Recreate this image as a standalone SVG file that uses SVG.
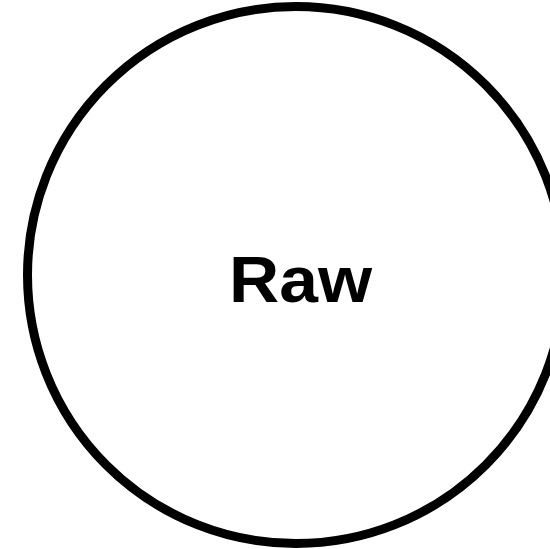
<svg xmlns="http://www.w3.org/2000/svg" width="550" height="549" viewBox="0 0 550 549">
<style>
.node-shape{fill:#ffffff;stroke:#000000;stroke-width:9}
.label{font-family:"Liberation Sans",Arial,sans-serif;font-weight:bold;font-size:64px;fill:#000000;text-anchor:middle}
</style>
<rect width="550" height="549" fill="#ffffff"/>
<g id="connectors"></g>
<g id="node-raw">
<circle class="node-shape" cx="296" cy="275" r="268.5"/>
<text class="label" x="300.5" y="302" textLength="143" lengthAdjust="spacingAndGlyphs">Raw</text>
</g>
</svg>
